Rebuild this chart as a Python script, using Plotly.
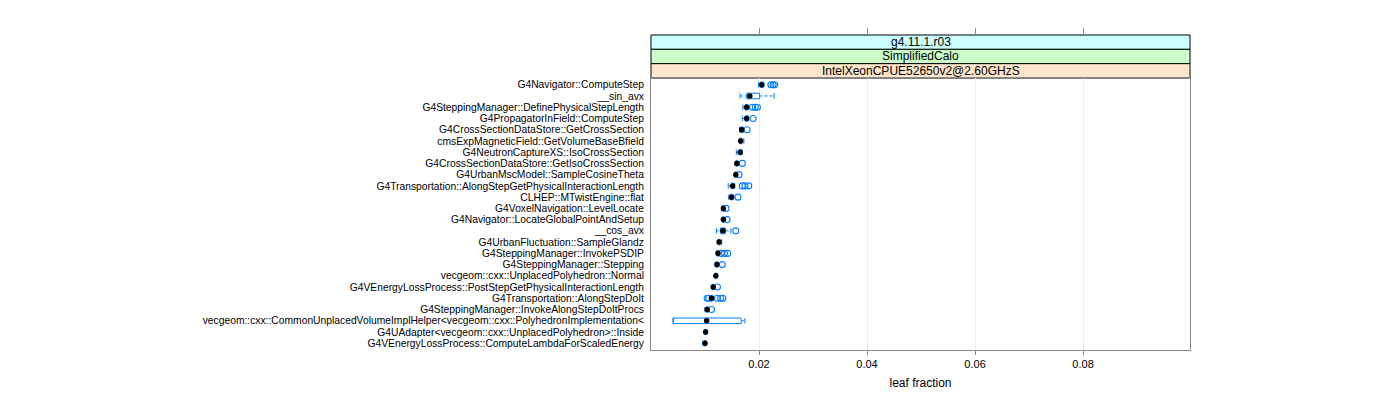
import plotly.graph_objects as go

names = [
    "G4Navigator::ComputeStep",
    "__sin_avx",
    "G4SteppingManager::DefinePhysicalStepLength",
    "G4PropagatorInField::ComputeStep",
    "G4CrossSectionDataStore::GetCrossSection",
    "cmsExpMagneticField::GetVolumeBaseBfield",
    "G4NeutronCaptureXS::IsoCrossSection",
    "G4CrossSectionDataStore::GetIsoCrossSection",
    "G4UrbanMscModel::SampleCosineTheta",
    "G4Transportation::AlongStepGetPhysicalInteractionLength",
    "CLHEP::MTwistEngine::flat",
    "G4VoxelNavigation::LevelLocate",
    "G4Navigator::LocateGlobalPointAndSetup",
    "__cos_avx",
    "G4UrbanFluctuation::SampleGlandz",
    "G4SteppingManager::InvokePSDIP",
    "G4SteppingManager::Stepping",
    "vecgeom::cxx::UnplacedPolyhedron::Normal",
    "G4VEnergyLossProcess::PostStepGetPhysicalInteractionLength",
    "G4Transportation::AlongStepDoIt",
    "G4SteppingManager::InvokeAlongStepDoItProcs",
    "vecgeom::cxx::CommonUnplacedVolumeImplHelper<vecgeom::cxx::PolyhedronImplementation<",
    "G4UAdapter<vecgeom::cxx::UnplacedPolyhedron>::Inside",
    "G4VEnergyLossProcess::ComputeLambdaForScaledEnergy",
]

median = [0.0205, 0.0183, 0.0177, 0.0177, 0.0168, 0.0166, 0.0165, 0.0159,
          0.0157, 0.0151, 0.0149, 0.0134, 0.0134, 0.0133, 0.0126, 0.0124,
          0.0122, 0.0120, 0.0115, 0.0112, 0.0104, 0.0103, 0.0101, 0.0100]
q1 = [0.0203, 0.0177, 0.0175, 0.0175, 0.0166, 0.0165, 0.0164, 0.0158,
      0.0156, 0.0149, 0.0147, 0.0133, 0.0133, 0.0129, 0.0125, 0.0123,
      0.0121, 0.0119, 0.0114, 0.0111, 0.0103, 0.0041, 0.0100, 0.0099]
q3 = [0.0207, 0.0201, 0.0179, 0.0179, 0.0170, 0.0168, 0.0167, 0.0160,
      0.0158, 0.0153, 0.0151, 0.0135, 0.0135, 0.0138, 0.0128, 0.0125,
      0.0123, 0.0121, 0.0116, 0.0114, 0.0105, 0.0167, 0.0102, 0.0101]
lower = [0.0199, 0.0165, 0.0170, 0.0169, 0.0164, 0.0164, 0.0158, 0.0156,
         0.0155, 0.0143, 0.0144, 0.0131, 0.0132, 0.0121, 0.0124, 0.0121,
         0.0119, 0.0118, 0.0113, 0.0110, 0.0100, 0.0041, 0.0099, 0.0096]
upper = [0.0209, 0.0228, 0.0181, 0.0180, 0.0171, 0.0172, 0.0169, 0.0161,
         0.0159, 0.0155, 0.0152, 0.0136, 0.0136, 0.0148, 0.0131, 0.0126,
         0.0124, 0.0122, 0.0118, 0.0115, 0.0106, 0.0174, 0.0103, 0.0102]
outliers = [
    [0.0222, 0.0226, 0.0229], [], [0.0188, 0.0193, 0.0197], [0.0189],
    [0.0178], [], [], [0.0169],
    [0.0163], [0.0169, 0.0174, 0.0181], [0.0161], [0.0139],
    [0.0141], [0.0157], [], [0.0130, 0.0136, 0.0142],
    [0.0132], [], [0.0123], [0.0104, 0.0107, 0.0123, 0.0129, 0.0133],
    [0.0112], [], [], [],
]

strip_labels = ["g4.11.1.r03", "SimplifiedCalo", "IntelXeonCPUE52650v2@2.60GHzS"]
strip_colors = ["#ccffff", "#ccffcc", "#ffe5cc"]
x_ticks = [0.02, 0.04, 0.06, 0.08]
x_range = [0.0, 0.0998]
x_title = "leaf fraction"

BLUE = "#0080ff"
HALF = 0.25

ypos = list(range(1, len(names) + 1))

box_x, box_y = [], []
wh_x, wh_y = [], []
cap_x, cap_y = [], []
out_x, out_y = [], []
for i, y in enumerate(ypos):
    a, b = q1[i], q3[i]
    box_x += [a, b, b, a, a, None]
    box_y += [y - HALF, y - HALF, y + HALF, y + HALF, y - HALF, None]
    if lower[i] < a:
        wh_x += [lower[i], a, None]
        wh_y += [y, y, None]
    if upper[i] > b:
        wh_x += [b, upper[i], None]
        wh_y += [y, y, None]
    for v in (lower[i], upper[i]):
        cap_x += [v, v, None]
        cap_y += [y - HALF, y + HALF, None]
    for o in outliers[i]:
        out_x.append(o)
        out_y.append(y)

fig = go.Figure()
fig.add_trace(go.Scatter(x=wh_x, y=wh_y, mode="lines",
                         line=dict(color=BLUE, width=1, dash="3px,2px"),
                         hoverinfo="skip", showlegend=False))
fig.add_trace(go.Scatter(x=cap_x, y=cap_y, mode="lines",
                         line=dict(color=BLUE, width=1),
                         hoverinfo="skip", showlegend=False))
fig.add_trace(go.Scatter(x=box_x, y=box_y, mode="lines",
                         line=dict(color=BLUE, width=1),
                         hoverinfo="skip", showlegend=False))
fig.add_trace(go.Scatter(x=out_x, y=out_y, mode="markers",
                         marker=dict(symbol="circle-open", size=6,
                                     color=BLUE, line=dict(width=1.1, color=BLUE)),
                         showlegend=False))
fig.add_trace(go.Scatter(x=median, y=ypos, mode="markers",
                         marker=dict(symbol="circle", size=5.5, color="black"),
                         showlegend=False))
# invisible trace for the top tick axis
fig.add_trace(go.Scatter(x=x_range, y=[1, 1], xaxis="x2", mode="markers",
                         marker=dict(opacity=0), hoverinfo="skip",
                         showlegend=False))

# page body has an 8px margin; compensate so the panel lands where wanted
OFF = 8
H = 400
T, B = 35 - OFF, 50 + OFF
plot_h = H - T - B
panel_top_px = 78 - OFF
dom_top = (H - B - panel_top_px) / plot_h
strip_h = (1 - dom_top) / 3

shapes = []
annotations = []
for k in range(3):
    y1 = 1 - k * strip_h
    y0 = y1 - strip_h
    shapes.append(dict(type="rect", xref="paper", yref="paper",
                       x0=0, x1=1, y0=y0, y1=y1,
                       fillcolor=strip_colors[k], line=dict(color="black", width=1),
                       layer="below"))
    annotations.append(dict(x=0.5, y=(y0 + y1) / 2, xref="paper", yref="paper",
                            xanchor="center", yanchor="middle",
                            text=strip_labels[k], showarrow=False,
                            font=dict(family="Liberation Sans", size=12, color="black")))

ticktext = [n.replace("<", "&lt;").replace(">", "&gt;") for n in names]

fig.update_layout(
    width=1400, height=400,
    margin=dict(l=651 - OFF, r=210 + OFF, t=T, b=B, pad=0),
    paper_bgcolor="white", plot_bgcolor="white",
    shapes=shapes, annotations=annotations,
    font=dict(family="Liberation Sans", size=10, color="black"),
    xaxis=dict(range=x_range, tickvals=x_ticks, ticktext=[f"{v:.2f}" for v in x_ticks],
               showgrid=True, gridcolor="#ececec", gridwidth=1,
               zeroline=False, showline=True, linecolor="#888888", linewidth=1,
               mirror=True, ticks="outside", ticklen=4, tickcolor="#888888",
               tickfont=dict(size=11), title=dict(text=x_title, font=dict(size=12), standoff=9),
               domain=[0, 1]),
    xaxis2=dict(range=x_range, matches="x", overlaying="x", anchor="free",
                position=1, side="top", tickvals=x_ticks, showticklabels=False,
                ticks="outside", ticklen=7, tickcolor="#888888", showgrid=False,
                zeroline=False, showline=False),
    yaxis=dict(range=[len(names) + 0.6, 0.4], tickvals=ypos, ticktext=ticktext,
               showgrid=False, zeroline=False, showline=True, linecolor="#888888",
               mirror=True, ticks="", tickfont=dict(size=10.3), ticklabelstandoff=4,
               domain=[0, dom_top]),
)

fig.write_html("out.html")
